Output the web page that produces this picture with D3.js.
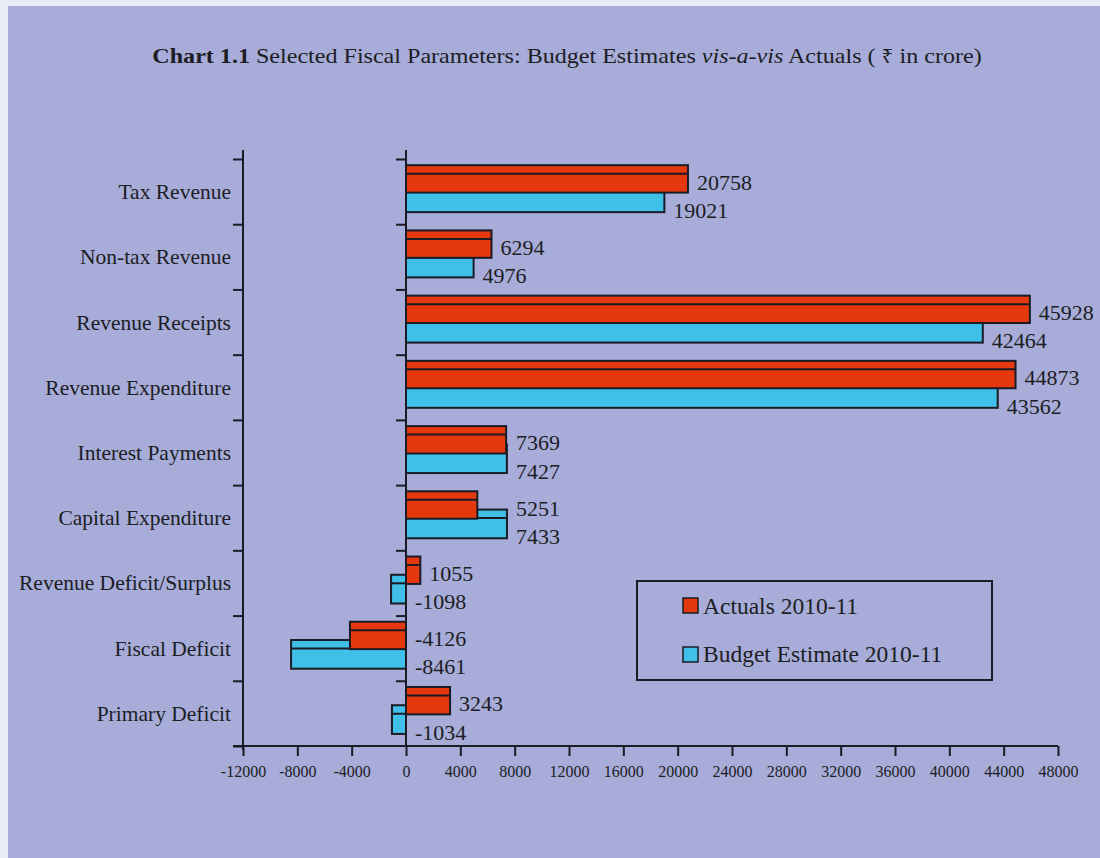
<!DOCTYPE html>
<html>
<head>
<meta charset="utf-8">
<script src="https://cdn.jsdelivr.net/npm/d3@7/dist/d3.min.js"></script>
<style>
  html, body { margin: 0; padding: 0; background: #e9ecf7; }
  svg { display: block; }
  text { font-family: "Liberation Serif", "Times New Roman", serif; fill: #1d1d24; }
</style>
</head>
<body>
<svg id="chart" width="1100" height="858"></svg>
<script>
// Fiscal parameters, 2010-11 (₹ in crore)
const categories = [
  "Tax Revenue", "Non-tax Revenue", "Revenue Receipts", "Revenue Expenditure",
  "Interest Payments", "Capital Expenditure", "Revenue Deficit/Surplus",
  "Fiscal Deficit", "Primary Deficit"
];
const actuals = [20758, 6294, 45928, 44873, 7369, 5251, 1055, -4126, 3243];
const budgetEstimates = [19021, 4976, 42464, 43562, 7427, 7433, -1098, -8461, -1034];
const xTicks = [-12000, -8000, -4000, 0, 4000, 8000, 12000, 16000, 20000, 24000,
                28000, 32000, 36000, 40000, 44000, 48000];
const seriesNames = ["Actuals 2010-11", "Budget Estimate 2010-11"];

const RED = "#e5380f", BLUE = "#40bfe8", INK = "#1b1b26";

const svg = d3.select("#chart");

// panel background with the pale margin at top and left
svg.append("rect").attr("x", 8).attr("y", 6).attr("width", 1092).attr("height", 852)
  .attr("fill", "#a7acd8");

// title, set slightly wide
const title = svg.append("text").attr("transform", "translate(567,63) scale(1.095,1)")
  .attr("text-anchor", "middle").style("font-size", "22px");
title.append("tspan").attr("font-weight", "bold").text("Chart 1.1");
title.append("tspan").text(" Selected Fiscal Parameters: Budget Estimates ");
title.append("tspan").attr("font-style", "italic").text("vis-a-vis");
title.append("tspan").text(" Actuals ( ");
title.append("tspan").style("font-family", "'Noto Sans', 'DejaVu Sans', sans-serif").style("font-size", "19px").text("₹");
title.append("tspan").text(" in crore)");

const x = d3.scaleLinear().domain([-12000, 48000]).range([243, 1058]);
const y = d3.scaleBand().domain(categories).range([159, 746]).padding(0);
const bw = y.bandwidth();

// band boundary positions for the category axis ticks
const bounds = d3.scaleLinear().domain([0, categories.length]).range([159, 746]);

// category axis
const catAxis = svg.append("g").attr("transform", `translate(${x(-12000)},0)`)
  .call(d3.axisLeft(bounds).tickValues(d3.range(0, categories.length + 1))
    .tickSize(10).tickSizeOuter(0).tickFormat(""));
catAxis.select(".domain").attr("d", "M0,150V750");
catAxis.selectAll("path, line").attr("stroke", INK).attr("stroke-width", 2);

// zero line
const zeroAxis = svg.append("g").attr("transform", `translate(${x(0)},0)`)
  .call(d3.axisLeft(bounds).tickValues(d3.range(0, categories.length))
    .tickSize(10).tickSizeOuter(0).tickFormat(""));
zeroAxis.select(".domain").attr("d", "M0,150V746");
zeroAxis.selectAll("path, line").attr("stroke", INK).attr("stroke-width", 2);

// category labels
svg.append("g").selectAll("text").data(categories).join("text")
  .attr("x", 231).attr("y", d => y(d) + bw / 2)
  .attr("dy", "0.35em").attr("text-anchor", "end")
  .style("font-size", "21.5px").text(d => d);

// value axis
const xAxis = svg.append("g").attr("transform", "translate(0,746)")
  .call(d3.axisBottom(x).tickValues(xTicks).tickSize(10).tickSizeOuter(0)
    .tickFormat(d => String(d)));
xAxis.select(".domain").attr("d", `M${x(-12000) - 10},0H${x(48000)}`);
xAxis.selectAll("path, line").attr("stroke", INK).attr("stroke-width", 2);
xAxis.selectAll("text").attr("y", 20).style("font-size", "16px")
  .style("font-family", "'Liberation Serif', serif").attr("fill", INK);

// bar geometry within a band: [top offset, height] as fractions of the band
const layouts = [
  { values: actuals, color: RED, top: 0.095, h: 0.42, labelDy: 0.35 },
  { values: budgetEstimates, color: BLUE, top: 0.375, h: 0.44, labelDy: 0.785 }
];

// draw budget bars first, actual bars overlap them
[layouts[1], layouts[0]].forEach(s => {
  const g = svg.append("g");
  const rows = categories.map((c, i) => ({ c, v: s.values[i] }));
  g.selectAll("rect").data(rows).join("rect")
    .attr("x", d => x(Math.min(0, d.v)))
    .attr("y", d => y(d.c) + s.top * bw)
    .attr("width", d => Math.abs(x(d.v) - x(0)))
    .attr("height", s.h * bw)
    .attr("fill", s.color).attr("stroke", INK).attr("stroke-width", 2);
  g.selectAll("line").data(rows).join("line")
    .attr("x1", d => x(Math.min(0, d.v)))
    .attr("x2", d => x(Math.max(0, d.v)))
    .attr("y1", d => y(d.c) + s.top * bw + 8.5)
    .attr("y2", d => y(d.c) + s.top * bw + 8.5)
    .attr("stroke", INK).attr("stroke-width", 2);
});

// value labels: the actual's label clears both bars of its row
layouts.forEach((s, k) => {
  svg.append("g").selectAll("text")
    .data(categories.map((c, i) => ({
      c, v: s.values[i],
      end: k === 0 ? Math.max(0, actuals[i], budgetEstimates[i]) : Math.max(0, budgetEstimates[i])
    })))
    .join("text")
    .attr("x", d => x(d.end) + 9)
    .attr("y", d => y(d.c) + s.labelDy * bw)
    .attr("dy", "0.35em")
    .style("font-size", "22px")
    .text(d => String(d.v));
});

// legend
const lg = svg.append("g");
lg.append("rect").attr("x", 637).attr("y", 581).attr("width", 355).attr("height", 99)
  .attr("fill", "none").attr("stroke", INK).attr("stroke-width", 2);
[RED, BLUE].forEach((col, i) => {
  lg.append("rect").attr("x", 683).attr("y", 598 + i * 49).attr("width", 15).attr("height", 15)
    .attr("fill", col).attr("stroke", INK).attr("stroke-width", 1.5);
  lg.append("text").attr("x", 703).attr("y", 606 + i * 48).attr("dy", "0.35em")
    .style("font-size", "23.5px").text(seriesNames[i]);
});
</script>
</body>
</html>
